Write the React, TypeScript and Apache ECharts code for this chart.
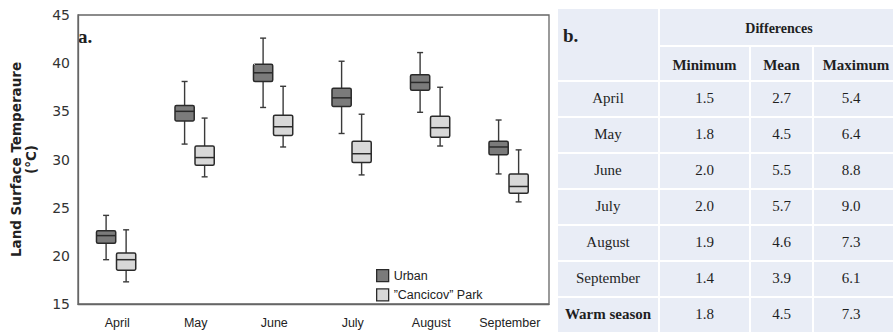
import React, { useEffect, useRef } from "react";
import * as echarts from "echarts";

const months = ["April", "May", "June", "July", "August", "September"];
// [min, Q1, median, Q3, max]
const urbanBox = [
  [19.6, 21.3, 22.1, 22.6, 24.2],
  [31.6, 34.0, 35.0, 35.6, 38.1],
  [35.4, 38.1, 39.0, 39.9, 42.6],
  [32.7, 35.5, 36.4, 37.4, 40.2],
  [34.9, 37.2, 38.0, 38.8, 41.1],
  [28.5, 30.5, 31.3, 31.9, 34.1],
];
const parkBox = [
  [17.3, 18.5, 19.6, 20.3, 22.7],
  [28.2, 29.4, 30.2, 31.4, 34.3],
  [31.3, 32.5, 33.4, 34.6, 37.6],
  [28.4, 29.7, 30.6, 31.9, 34.7],
  [31.4, 32.3, 33.3, 34.5, 37.5],
  [25.6, 26.5, 27.2, 28.5, 31.0],
];
const seriesNames = ["Urban", "\u201DCancicov\u201D Park"];

const tableRows = ["April", "May", "June", "July", "August", "September", "Warm season"];
const diffMin = ["1.5", "1.8", "2.0", "2.0", "1.9", "1.4", "1.8"];
const diffMean = ["2.7", "4.5", "5.5", "5.7", "4.6", "3.9", "4.5"];
const diffMax = ["5.4", "6.4", "8.8", "9.0", "7.3", "6.1", "7.3"];
const subHeaders = ["Minimum", "Mean", "Maximum"];

const SANS = "'Liberation Sans', Arial, sans-serif";
const SERIF = "'Liberation Serif', 'Times New Roman', serif";

function makeRenderItem(shift: number, fill: string) {
  return (params: any, api: any) => {
    const i = api.value(0);
    const band = api.size([1, 0])[0];
    const cx = api.coord([i, api.value(3)])[0] + shift * band;
    const w = band * 0.245;
    const yLo = api.coord([i, api.value(1)])[1];
    const yQ1 = api.coord([i, api.value(2)])[1];
    const yMed = api.coord([i, api.value(3)])[1];
    const yQ3 = api.coord([i, api.value(4)])[1];
    const yHi = api.coord([i, api.value(5)])[1];
    const cap = 3;
    const ws = { stroke: "#3a3a3a", lineWidth: 1.4 };
    return {
      type: "group",
      children: [
        { type: "line", shape: { x1: cx, y1: yHi, x2: cx, y2: yQ3 }, style: ws },
        { type: "line", shape: { x1: cx, y1: yQ1, x2: cx, y2: yLo }, style: ws },
        { type: "line", shape: { x1: cx - cap, y1: yHi, x2: cx + cap, y2: yHi }, style: ws },
        { type: "line", shape: { x1: cx - cap, y1: yLo, x2: cx + cap, y2: yLo }, style: ws },
        {
          type: "rect",
          shape: { x: cx - w / 2, y: yQ3, width: w, height: yQ1 - yQ3, r: 1.5 },
          style: { fill, stroke: "#2a2a2a", lineWidth: 1.5 },
        },
        {
          type: "line",
          shape: { x1: cx - w / 2, y1: yMed, x2: cx + w / 2, y2: yMed },
          style: { stroke: "#2a2a2a", lineWidth: 1.5 },
        },
      ],
    };
  };
}

function buildTable() {
  const els: any[] = [];
  const colX = [557, 659, 750, 813, 893];
  const rowY = [8, 46, 81];
  const rowH = 36;
  const bg = "#e9edf6";
  const cell = (x0: number, y0: number, x1: number, y1: number) => ({
    type: "rect",
    shape: { x: x0 + 1, y: y0 + 1, width: x1 - x0 - 2, height: y1 - y0 - 2 },
    style: { fill: bg },
    silent: true,
  });
  const txt = (t: string, x: number, y: number, bold: boolean, size = 15, align = "center") => ({
    type: "text",
    x,
    y,
    style: {
      text: t,
      fill: "#1f1f1f",
      font: `${bold ? "bold " : ""}${size}px ${SERIF}`,
      align,
      verticalAlign: "middle",
    },
    silent: true,
  });
  els.push(cell(colX[0], rowY[0], colX[1], rowY[2]));
  els.push(cell(colX[1], rowY[0], colX[4] + 2, rowY[1]));
  for (let c = 0; c < 3; c++) {
    els.push(cell(colX[c + 1], rowY[1], c === 2 ? colX[4] + 2 : colX[c + 2], rowY[2]));
  }
  els.push(txt("b.", 563, 35, true, 19, "left"));
  els.push(txt("Differences", (colX[1] + colX[4]) / 2 + 3, 28, true, 14));
  const colCenters = [704.5, 781.5, 856];
  subHeaders.forEach((h, c) => els.push(txt(h, colCenters[c], 64.5, true, 15)));
  tableRows.forEach((r, k) => {
    const y0 = rowY[2] + k * rowH;
    const y1 = y0 + rowH;
    for (let c = 0; c < 4; c++) {
      els.push(cell(colX[c], y0, c === 3 ? colX[4] + 2 : colX[c + 1], y1));
    }
    const yc = (y0 + y1) / 2 - 1;
    const bold = k === tableRows.length - 1;
    els.push(txt(r, 608, yc, bold, 15));
    els.push(txt(diffMin[k], 704.5, yc, false, 15));
    els.push(txt(diffMean[k], 781.5, yc, false, 15));
    els.push(txt(diffMax[k], 851, yc, false, 15));
  });
  return els;
}

export default function App() {
  const ref = useRef<HTMLDivElement>(null);
  useEffect(() => {
    if (!ref.current) return;
    const chart = echarts.init(ref.current, null, { renderer: "svg" });
    const urbanData = urbanBox.map((b, i) => [i, ...b]);
    const parkData = parkBox.map((b, i) => [i, ...b]);
    chart.setOption({
      animation: false,
      backgroundColor: "#ffffff",
      grid: {
        left: 70,
        top: 15,
        right: 344,
        bottom: 30,
        show: true,
        borderColor: "#666666",
        borderWidth: 1.3,
        backgroundColor: "transparent",
      },
      legend: {
        orient: "vertical",
        left: 371,
        top: 264,
        itemWidth: 12,
        itemHeight: 12,
        itemGap: 6,
        icon: "rect",
        selectedMode: false,
        textStyle: { fontFamily: SANS, fontSize: 12.5, color: "#222" },
        data: [
          { name: seriesNames[0], itemStyle: { color: "#7b7b7b", borderColor: "#2a2a2a", borderWidth: 1.3 } },
          { name: seriesNames[1], itemStyle: { color: "#d8d8d8", borderColor: "#2a2a2a", borderWidth: 1.3 } },
        ],
      },
      xAxis: {
        type: "category",
        data: months,
        boundaryGap: true,
        axisLine: { show: true, lineStyle: { color: "#666666", width: 1.3 } },
        axisTick: { show: false },
        axisLabel: { fontFamily: SANS, fontSize: 12.5, color: "#222", margin: 12, interval: 0 },
        splitLine: { show: false },
      },
      yAxis: {
        type: "value",
        min: 15,
        max: 45,
        interval: 5,
        axisLine: { show: true, lineStyle: { color: "#666666", width: 1.3 } },
        axisTick: { show: false },
        splitLine: { show: false },
        axisLabel: { fontFamily: "'DejaVu Sans', sans-serif", fontSize: 14, color: "#333", margin: 8 },
        name: "Land Surface Temperaure\n(°C)",
        nameLocation: "middle",
        nameRotate: 90,
        nameGap: 40,
        nameTextStyle: {
          fontFamily: "'DejaVu Sans', sans-serif",
          fontWeight: "bold",
          fontSize: 13.5,
          color: "#222",
          lineHeight: 15,
        },
      },
      series: [
        {
          name: seriesNames[0],
          type: "custom",
          renderItem: makeRenderItem(-0.142, "#7b7b7b"),
          itemStyle: { color: "#7b7b7b" },
          encode: { x: 0, y: [1, 2, 3, 4, 5] },
          data: urbanData,
        },
        {
          name: seriesNames[1],
          type: "custom",
          renderItem: makeRenderItem(0.113, "#d8d8d8"),
          itemStyle: { color: "#d8d8d8" },
          encode: { x: 0, y: [1, 2, 3, 4, 5] },
          data: parkData,
        },
      ],
      graphic: [
        {
          type: "text",
          x: 78,
          y: 36,
          style: { text: "a.", font: `bold 19px ${SERIF}`, fill: "#1f1f1f", verticalAlign: "middle" },
          silent: true,
        },
        ...buildTable(),
      ],
    });
    return () => chart.dispose();
  }, []);
  return (
    <div
      ref={ref}
      style={{ position: "fixed", left: 0, top: 0, width: 893, height: 334, background: "#fff" }}
    />
  );
}
